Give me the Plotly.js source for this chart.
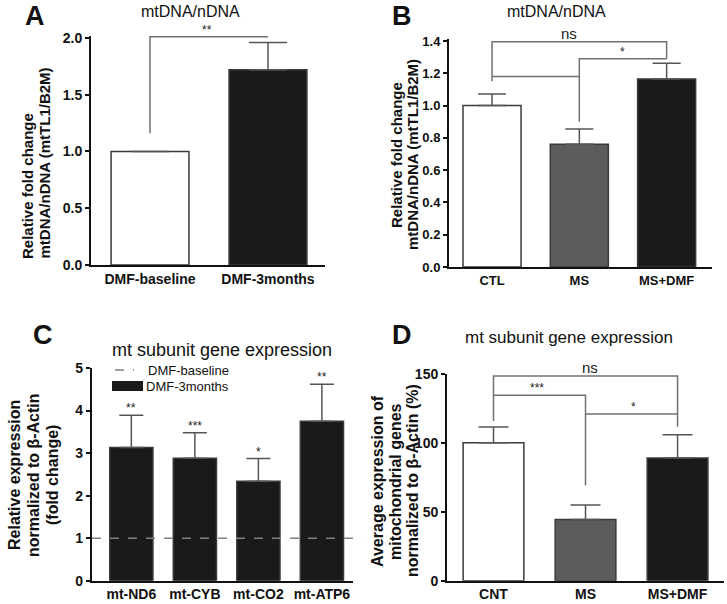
<!DOCTYPE html>
<html>
<head>
<meta charset="utf-8">
<script src="https://cdn.plot.ly/plotly-3.0.1.min.js"></script>
<style>
  html, body { margin: 0; padding: 0; background: #fff; }
  #plot { width: 727px; height: 604px; }
</style>
</head>
<body>
<div id="plot"></div>
<script>
// panel A
var catsA = ['DMF-baseline', 'DMF-3months'];
var valsA = [1.0, 1.72];
var errA = [0, 0.24];

// panel B
var catsB = ['CTL', 'MS', 'MS+DMF'];
var valsB = [1.0, 0.76, 1.165];
var errB = [0.072, 0.095, 0.097];

// panel C
var catsC = ['mt-ND6', 'mt-CYB', 'mt-CO2', 'mt-ATP6'];
var valsC = [3.13, 2.88, 2.34, 3.75];
var errC = [0.76, 0.60, 0.53, 0.87];
var starsC = ['**', '***', '*', '**'];
var baselineC = 1.0;
var legendC = ['DMF-baseline', 'DMF-3months'];

// panel D
var catsD = ['CNT', 'MS', 'MS+DMF'];
var valsD = [100, 44.4, 88.9];
var errD = [11.4, 10.4, 16.9];

var FONT = 'Liberation Sans, Arial, sans-serif';
var white = '#ffffff', grey = '#5c5c5c', black = '#1a1a1a';

function bars(cats, vals, err, colors, xa, ya, capw, w) {
    return {
        type: 'bar', x: cats, y: vals, xaxis: xa, yaxis: ya,
        width: w, showlegend: false, hoverinfo: 'skip',
        marker: { color: colors, line: { color: '#3a3a3a', width: 1.5 } },
        error_y: { type: 'data', symmetric: false, array: err, arrayminus: err.map(function () { return 0; }),
                   color: '#555', thickness: 1.5, width: capw }
    };
}

// significance brackets, as category / value paths
function bracket(xs, ys, xa, ya) {
    return {
        type: 'scatter', mode: 'lines', x: xs, y: ys, xaxis: xa, yaxis: ya,
        line: { color: '#707070', width: 1.5 }, showlegend: false, hoverinfo: 'skip'
    };
}

var traces = [];
traces.push(bars(catsA, valsA, errA, [white, black], 'x', 'y', 19, 0.66));
traces.push(bars(catsB, valsB, errB, [white, grey, black], 'x2', 'y2', 14, 0.665));
traces.push(bars(catsC, valsC, errC, black, 'x3', 'y3', 12, 0.68));
traces.push(bars(catsD, valsD, errD, [white, grey, black], 'x4', 'y4', 15, 0.66));

traces.push(bracket([catsA[0], catsA[0], catsA[1]], [1.16, 2.01, 2.01], 'x', 'y'));

traces.push(bracket([catsB[0], catsB[0], catsB[2], catsB[2]], [1.15, 1.395, 1.395, 1.29], 'x2', 'y2'));
traces.push(bracket([catsB[0], catsB[1]], [1.18, 1.18], 'x2', 'y2'));
traces.push(bracket([catsB[1], catsB[1], catsB[2]], [0.90, 1.29, 1.29], 'x2', 'y2'));

traces.push(bracket([catsD[0], catsD[0], catsD[2], catsD[2]], [115.7, 148.3, 148.3, 111.6], 'x4', 'y4'));
traces.push(bracket([catsD[0], catsD[1], catsD[1]], [134.3, 134.3, 69], 'x4', 'y4'));
traces.push(bracket([catsD[1], catsD[2]], [120.8, 120.8], 'x4', 'y4'));

function xax(domain, range, anchor, fs) {
    return {
        domain: domain, range: range, anchor: anchor, type: 'category',
        showline: true, linecolor: '#111', linewidth: 2, ticks: '', showgrid: false, zeroline: false,
        tickfont: { family: FONT, size: fs, color: '#111', weight: 'bold' }, fixedrange: true
    };
}
function yax(domain, range, dtick, fmt, anchor, fs) {
    return {
        domain: domain, range: range, anchor: anchor, dtick: dtick, tick0: 0, tickformat: fmt,
        showline: true, linecolor: '#111', linewidth: 2, ticks: 'outside', ticklen: 4, tickwidth: 2,
        tickcolor: '#111', showgrid: false, zeroline: false,
        tickfont: { family: FONT, size: fs, color: '#111', weight: 'bold' }, fixedrange: true
    };
}

var P = function (px) { return px / 727; };
var Q = function (py) { return 1 - py / 604; };

var layout = {
    width: 727, height: 604,
    margin: { l: 0, r: 0, t: 0, b: 0 },
    paper_bgcolor: '#fff', plot_bgcolor: 'rgba(0,0,0,0)',
    font: { family: FONT, color: '#111' },
    showlegend: false,
    xaxis: xax([0.1252, 0.4470], [-0.5, 1.483], 'y', 14),
    yaxis: yax([0.5613, 0.9409], [0, 2.02], 0.5, '.1f', 'x', 14),
    xaxis2: xax([0.6176, 0.9794], [-0.493, 2.52], 'y2', 13),
    yaxis2: yax([0.5579, 0.9348], [0, 1.41], 0.2, '.1f', 'x2', 13),
    xaxis3: xax([0.1265, 0.4856], [-0.62, 3.49], 'y3', 14),
    yaxis3: yax([0.0386, 0.3907], [0, 5], 1, '', 'x3', 14),
    xaxis4: xax([0.6149, 0.9959], [-0.505, 2.505], 'y4', 14),
    yaxis4: yax([0.0386, 0.3813], [0, 150], 50, '', 'x4', 14),
    shapes: [
        // DMF-baseline reference line in C
        { type: 'line', xref: 'paper', yref: 'y3', x0: 0.1265, x1: P(362), y0: baselineC, y1: baselineC,
          line: { color: '#808080', width: 1.5, dash: 'dash' } },
        // legend keys for C
        { type: 'line', xref: 'paper', yref: 'paper', x0: P(115), x1: P(134), y0: Q(370), y1: Q(370),
          line: { color: '#808080', width: 1.5, dash: 'dash' } },
        { type: 'rect', xref: 'paper', yref: 'paper', x0: P(112), x1: P(143), y0: Q(391), y1: Q(381),
          fillcolor: black, line: { width: 0 } }
    ],
    annotations: []
};

function txt(text, x, y, size, extra) {
    var a = { text: text, x: x, y: y, xref: 'paper', yref: 'paper', showarrow: false,
              xanchor: 'center', yanchor: 'middle', font: { family: FONT, size: size, color: '#111' } };
    for (var k in extra) a[k] = extra[k];
    return a;
}
var bold = function (s) { return { family: FONT, size: s, color: '#111', weight: 'bold' }; };
var ann = layout.annotations;

// panel letters and titles
ann.push(txt('A', P(35), Q(16), 27, { font: bold(27) }));
ann.push(txt('B', P(402), Q(16), 27, { font: bold(27) }));
ann.push(txt('C', P(43), Q(335), 27, { font: bold(27) }));
ann.push(txt('D', P(402), Q(335), 27, { font: bold(27) }));
ann.push(txt('mtDNA/nDNA', P(190), Q(12), 16));
ann.push(txt('mtDNA/nDNA', P(556), Q(12), 16));
ann.push(txt('mt subunit gene expression', P(222), Q(350), 18));
ann.push(txt('mt subunit gene expression', P(569), Q(337), 17));

// legend text for C
ann.push(txt(legendC[0], P(146), Q(370), 13, { xanchor: 'left' }));
ann.push(txt(legendC[1], P(144), Q(386), 13, { xanchor: 'left' }));

// y axis titles, one annotation per line
function ytitle(lines, xs, y, size, anchor) {
    for (var i = 0; i < lines.length; i++) {
        ann.push(txt(lines[i], P(xs[i]), Q(y), size, { textangle: -90, font: bold(size), yanchor: anchor }));
    }
}
ytitle(['Relative fold change', 'mtDNA/nDNA (mtTL1/B2M)'], [28, 44], 261, 15, 'bottom');
ytitle(['Relative fold change', 'mtDNA/nDNA (mtTL1/B2M)'], [396, 412], 155, 15, 'middle');
ytitle(['Relative expression', 'normalized to β-Actin', '(fold change)'], [14, 33, 52], 475, 16, 'middle');
ytitle(['Average expression of', 'mitochondrial genes', 'normalized to β-Actin (%)'], [377, 395, 412], 481, 16, 'middle');

// significance labels
function star(text, x, y, xa, ya, size) {
    return { text: text, x: x, y: y, xref: xa, yref: ya, showarrow: false, xanchor: 'center', yanchor: 'bottom',
             yshift: -2, font: { family: FONT, size: size, color: '#222' } };
}
ann.push(star('**', 0.48, 2.01, 'x', 'y', 12));
ann.push(star('ns', 0.88, 1.395, 'x2', 'y2', 15));
ann.push(star('*', 1.5, 1.29, 'x2', 'y2', 12));
ann.push(star('ns', 1.05, 148.3, 'x4', 'y4', 15));
ann.push(star('***', 0.47, 134.3, 'x4', 'y4', 12));
ann.push(star('*', 1.52, 120.8, 'x4', 'y4', 12));
for (var i = 0; i < catsC.length; i++) {
    ann.push(star(starsC[i], i, valsC[i] + errC[i], 'x3', 'y3', 12));
}

Plotly.newPlot('plot', traces, layout, { displayModeBar: false, staticPlot: true });
</script>
</body>
</html>
